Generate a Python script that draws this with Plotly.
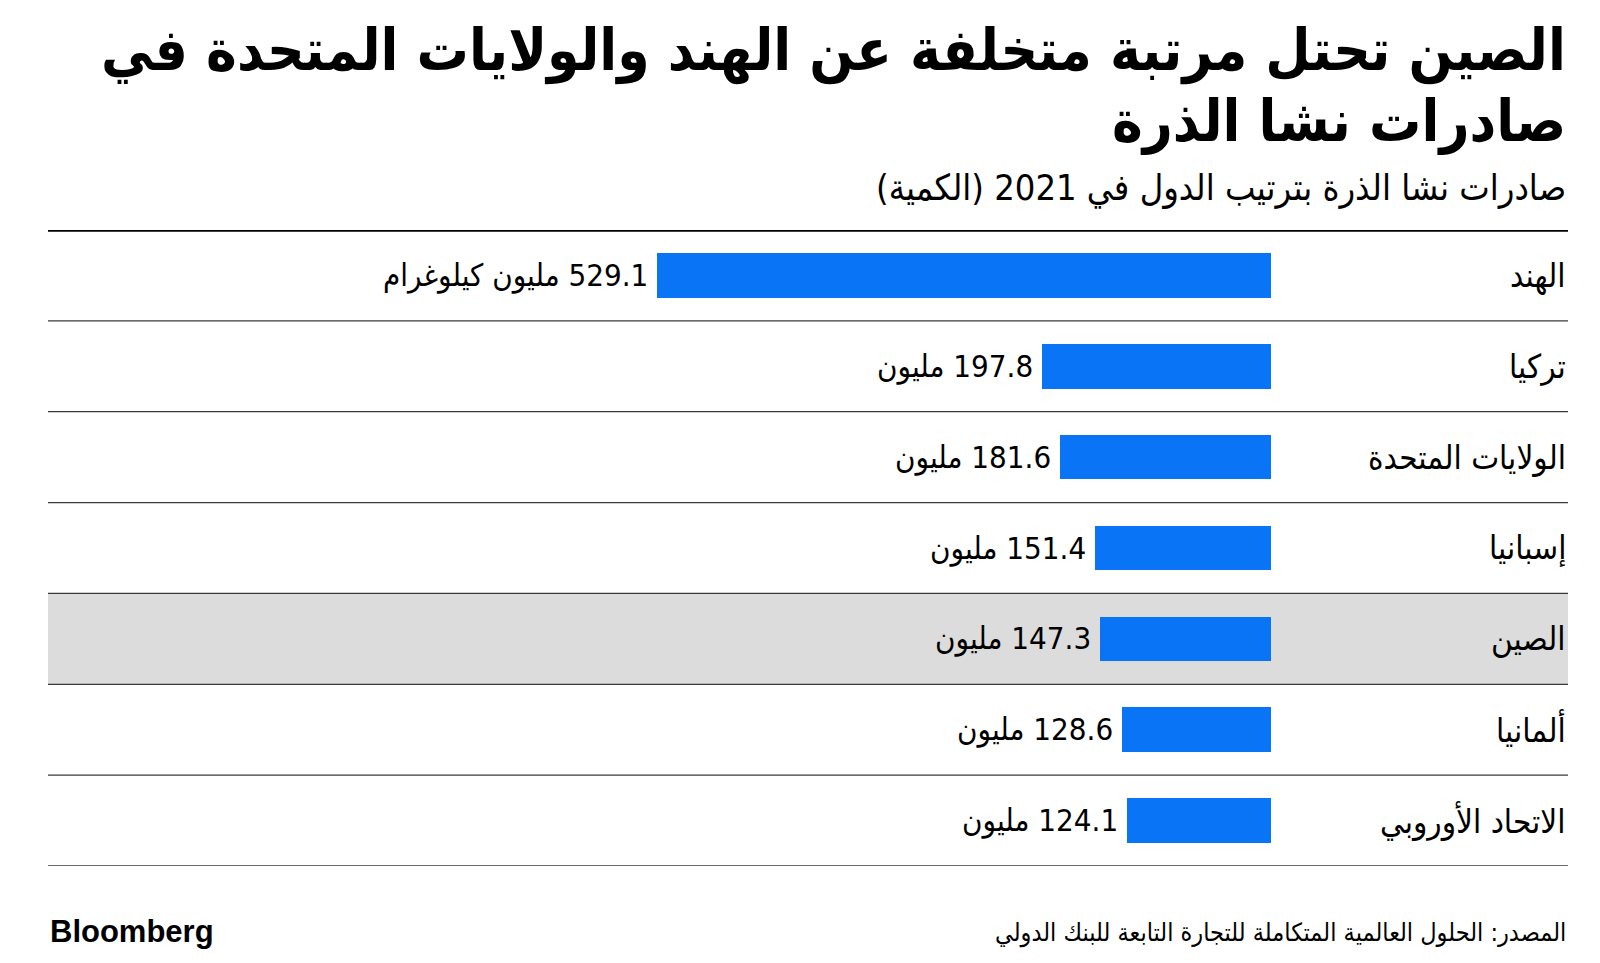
import plotly.graph_objects as go

countries = ["الهند", "تركيا", "الولايات المتحدة", "إسبانيا", "الصين", "ألمانيا", "الاتحاد الأوروبي"]
values = [529.1, 197.8, 181.6, 151.4, 147.3, 128.6, 124.1]
units = ["مليون كيلوغرام", "مليون", "مليون", "مليون", "مليون", "مليون", "مليون"]
highlight = "الصين"

title_lines = ["الصين تحتل مرتبة متخلفة عن الهند والولايات المتحدة في", "صادرات نشا الذرة"]
subtitle = "صادرات نشا الذرة بترتيب الدول في 2021 (الكمية)"
source = "المصدر: الحلول العالمية المتكاملة للتجارة التابعة للبنك الدولي"

RLE, PDF = "\u202B", "\u202C"
AR = "DejaVu Sans Condensed, DejaVu Sans, sans-serif"
BAR = "#0a74f6"

W, H = 1600, 963
L, R, T, B = 48, 32, 230, 97
plot_h = H - T - B

fig = go.Figure()
fig.add_trace(go.Bar(
    x=values, y=list(range(len(countries))), orientation="h",
    marker=dict(color=BAR, line=dict(width=0)), width=0.49,
    hoverinfo="skip", showlegend=False,
))

n = len(countries)
shapes = []
idx = countries.index(highlight)
shapes.append(dict(type="rect", xref="paper", yref="y", x0=0, x1=1, y0=idx - 0.5, y1=idx + 0.5,
                   fillcolor="#dcdcdc", line=dict(width=0), layer="below"))
for k in range(1, n + 1):
    shapes.append(dict(type="line", xref="paper", yref="y", x0=0, x1=1, y0=k - 0.5, y1=k - 0.5,
                       line=dict(color="#3a3a3a", width=1.3)))
shapes.append(dict(type="line", xref="paper", yref="y", x0=0, x1=1, y0=-0.5, y1=-0.5,
                   line=dict(color="#000000", width=3.5)))

ann = []
for i, (c, v, u) in enumerate(zip(countries, values, units)):
    ann.append(dict(xref="paper", yref="y", x=1, y=i, xanchor="right", yanchor="middle",
                    text=c, showarrow=False, font=dict(family=AR, size=33, color="#000")))
    ann.append(dict(xref="x", yref="y", x=v, y=i, xanchor="right", yanchor="middle", xshift=-7,
                    text=RLE + f"{v} {u}" + PDF, showarrow=False,
                    font=dict(family=AR, size=31, color="#000")))

def py(p):
    return (H - B - p) / plot_h

ann.append(dict(xref="paper", yref="paper", x=1, y=py(50), xanchor="right", yanchor="middle",
                text="<b>" + title_lines[0] + "</b>", showarrow=False,
                font=dict(family=AR, size=58, color="#000")))
ann.append(dict(xref="paper", yref="paper", x=1, y=py(121), xanchor="right", yanchor="middle",
                text="<b>" + title_lines[1] + "</b>", showarrow=False,
                font=dict(family=AR, size=58, color="#000")))
ann.append(dict(xref="paper", yref="paper", x=1, y=py(188), xanchor="right", yanchor="middle",
                text=RLE + subtitle + PDF, showarrow=False,
                font=dict(family=AR, size=36, color="#000")))
ann.append(dict(xref="paper", yref="paper", x=1, y=py(933), xanchor="right", yanchor="middle",
                text=RLE + source + PDF, showarrow=False,
                font=dict(family=AR, size=25, color="#000")))
ann.append(dict(xref="paper", yref="paper", x=0, y=py(931), xanchor="left", yanchor="middle",
                text="<b>Bloomberg</b>", showarrow=False,
                font=dict(family="Liberation Sans Narrow, Liberation Sans, Arial, sans-serif", size=31, color="#000")))

s = 1.16
x_left = (1271 - L) / s
x_right = -(W - R - 1271) / s

fig.update_layout(
    width=W, height=H,
    margin=dict(l=L, r=R, t=T, b=B),
    paper_bgcolor="white", plot_bgcolor="rgba(0,0,0,0)",
    xaxis=dict(range=[x_left, x_right], visible=False, fixedrange=True),
    yaxis=dict(range=[n - 0.5, -0.5], visible=False, fixedrange=True),
    shapes=shapes, annotations=ann, bargap=0,
)
fig.write_html("out.html", config={"displayModeBar": False},
               post_script="document.body.style.margin='0px';document.body.style.overflow='hidden';")
